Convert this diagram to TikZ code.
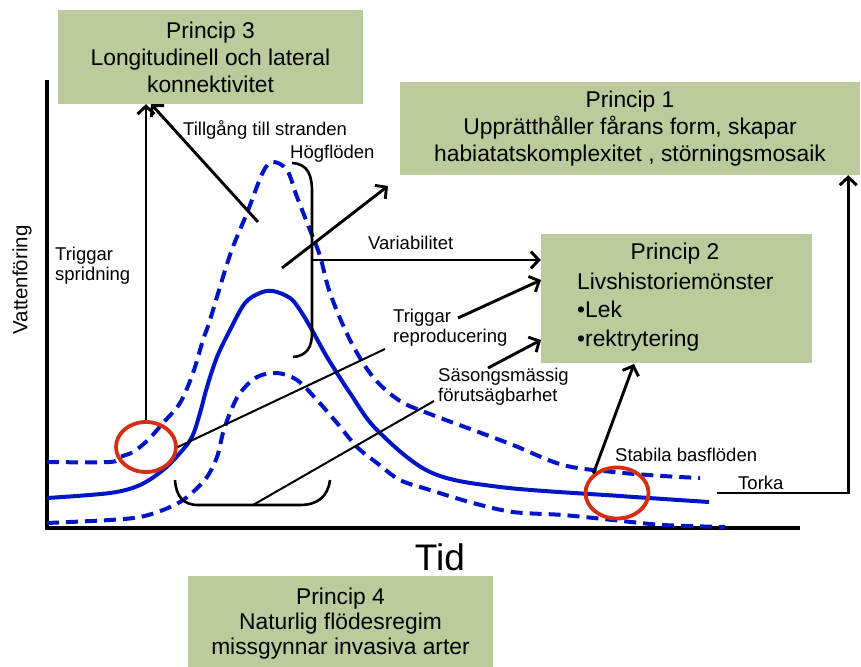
\documentclass[tikz,border=0pt]{standalone}
\usepackage{fontspec}
\setmainfont{Liberation Sans}
\usetikzlibrary{arrows.meta,shapes.geometric,calc}
\definecolor{boxg}{RGB}{188,203,156}
\definecolor{flowblue}{RGB}{0,20,200}
\definecolor{circred}{RGB}{215,45,20}
\begin{document}
\begin{tikzpicture}[x=1pt,y=-1pt,
  pbox/.style={fill=boxg, draw=none, inner sep=0pt, align=center},
  arr/.style={draw=black, line width=2.9pt, -{Straight Barb[length=8pt,width=17pt]}},
  thinline/.style={draw=black, line width=2pt},
  bracketline/.style={draw=black, line width=2.6pt},
  lab/.style={font=\fontsize{18.5}{20}\selectfont, inner sep=0pt, align=left},
  big/.style={font=\fontsize{22.8}{27}\selectfont},
  flow/.style={draw=flowblue, line width=4pt},
  flowd/.style={flow, dash pattern=on 12pt off 7pt},
  ring/.style={ellipse, draw=circred, line width=3.8pt, inner sep=0pt}
]
\useasboundingbox (0,0) rectangle (861,666);

% boxes
\node[pbox, big, minimum width=305pt, minimum height=94pt] (p3) at (210.5,57)
  {Princip 3\\Longitudinell och lateral\\konnektivitet};
\node[pbox, big, minimum width=460pt, minimum height=93pt] (p1) at (630,128.5)
  {Princip 1\\Upprätthåller fårans form, skapar\\habiatatskomplexitet , störningsmosaik};
\node[pbox, minimum width=271pt, minimum height=129pt] (p2) at (676.5,298.5) {};
\node[font=\fontsize{22.8}{27}\selectfont, inner sep=0pt] (p2t) at (675,254) {Princip 2};
\node[font=\fontsize{22.8}{28.5}\selectfont, inner sep=0pt, align=left, anchor=west] (p2l) at (577,312)
  {Livshistoriemönster\\•Lek\\•rektrytering};
\node[pbox, font=\fontsize{22.8}{25}\selectfont, minimum width=305pt, minimum height=96pt] (p4) at (340.5,624)
  {Princip 4\\Naturlig flödesregim\\missgynnar invasiva arter};

% axes
\draw[line width=3.6pt, line join=miter] (47,80) -- (47,528) -- (800,528);
\node[font=\fontsize{37}{40}\selectfont, inner sep=0pt] (tid) at (440,557) {Tid};
\node[font=\fontsize{20.5}{24}\selectfont, inner sep=0pt, rotate=90] (vf) at (22,280) {Vattenföring};

% flow curves
\draw[flow] plot[smooth, tension=0.55] coordinates {(47,498) (110,493) (140,485) (163,470) (180,453) (192,437) (200,413) (207,387) (217,357) (230,330) (245,303) (260,293) (273,291) (290,298) (300,310) (312,330) (327,357) (350,393) (377,430) (430,472) (500,487) (620,496) (709,502)};
\draw[flowd] plot[smooth, tension=0.55] coordinates {(47,462) (110,462) (120,457) (133,452) (148,440) (163,423) (180,403) (193,373) (203,340) (210,320) (230,255) (247,213) (263,172) (273,162) (287,170) (297,197) (310,230) (320,256) (330,293) (350,340) (373,377) (400,401) (430,414) (473,430) (513,445) (563,465) (613,472) (663,476) (700,478)};
\draw[flowd] plot[smooth, tension=0.55] coordinates {(47,523) (110,520) (140,517) (163,510) (180,502) (193,492) (207,477) (217,457) (223,433) (230,413) (240,393) (257,377) (277,373) (297,380) (317,400) (337,423) (357,447) (377,463) (400,480) (430,490) (473,503) (513,512) (563,515) (613,520) (663,525) (725,527)};

% red rings
\node[ring, minimum width=60pt, minimum height=50pt] (redL) at (146,447) {};
\node[ring, minimum width=63pt, minimum height=51pt] (redR) at (617,493) {};

% labels
\node[lab, anchor=west] (trs) at (55,266) {Triggar\\spridning};
\node[lab, anchor=west] (till) at (183,130) {Tillgång till stranden};
\node[lab, anchor=west] (hog) at (290,154) {Högflöden};
\node[lab, anchor=west] (var) at (368,243) {Variabilitet};
\node[lab, anchor=west] (trr) at (393,328) {Triggar\\reproducering};
\node[lab, anchor=west] (sas) at (438,387) {Säsongsmässig\\förutsägbarhet};
\node[lab, anchor=west] (stab) at (615,455) {Stabila basflöden};
\node[lab, anchor=west] (tork) at (738,483) {Torka};

% brace (Högflöden)
\draw[bracketline] (292,163) .. controls (308,164) and (312,175) .. (312,192) -- (312,333) .. controls (312,348) and (306,356) .. (293,357);
\coordinate (bt) at (312,260);
\draw[arr] (bt) -- (bt -| p2.west);

% bottom bracket
\draw[bracketline] (175,480) .. controls (176,496) and (183,505) .. (198,505) -- (300,505) .. controls (318,505) and (328,496) .. (330,480);
\coordinate (bb) at (253,505);
\coordinate (sasin) at (434,401);
\draw[thinline] (bb) -- (sasin);
\coordinate (sasout) at (488,368);
\coordinate (p2b) at (541,340);
\draw[arr] (sasout) -- (p2b);

% arrows to principle 3
\draw[arr] (redL.north) -- (redL.north |- p3.south);
\coordinate (tillstart) at (258,222);
\coordinate (tillend) at (151,104);
\draw[arr] (tillstart) -- (tillend);

% arrow towards principle 1
\coordinate (hs) at (282,268);
\coordinate (he) at (388,186);
\draw[arr] (hs) -- (he);

% triggar reproducering
\coordinate (trin) at (385,349);
\draw[thinline] (redL.east) -- (trin);
\coordinate (trout) at (458,318);
\coordinate (p2a) at (541,280);
\draw[arr] (trout) -- (p2a);

% stable base flows
\draw[arr] (redR.north west) -- (634,364);

% torka
\coordinate (tk) at (717,493);
\draw[arr, line join=miter] (tk) -| ($(p1.south east)+(-12,0)$);
\end{tikzpicture}
\end{document}
